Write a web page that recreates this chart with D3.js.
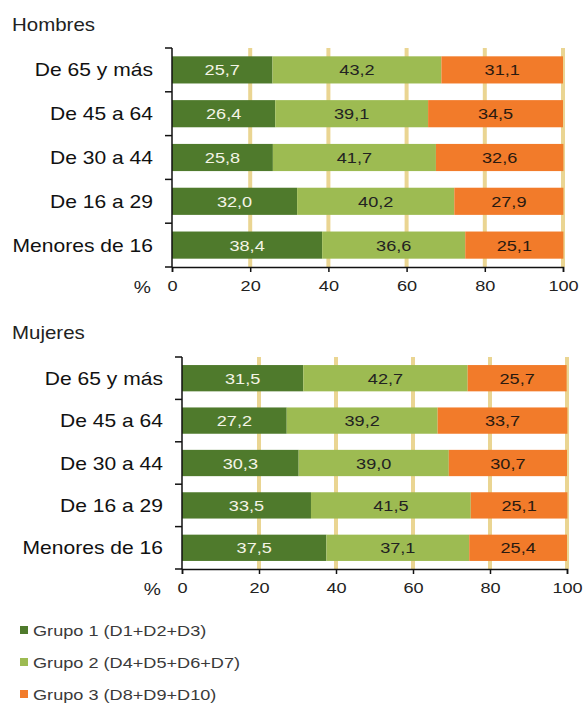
<!DOCTYPE html>
<html>
<head>
<meta charset="utf-8">
<script src="https://cdn.jsdelivr.net/npm/d3@7"></script>
<style>
  body { margin: 0; background: #fff; }
  text { font-family: "Liberation Sans", Arial, sans-serif; }
</style>
</head>
<body>
<div id="chart"></div>
<script>
// data
const categories = ["De 65 y más", "De 45 a 64", "De 30 a 44", "De 16 a 29", "Menores de 16"];
const groups = ["Grupo 1 (D1+D2+D3)", "Grupo 2 (D4+D5+D6+D7)", "Grupo 3 (D8+D9+D10)"];
const hombresG1 = [25.7, 26.4, 25.8, 32.0, 38.4];
const hombresG2 = [43.2, 39.1, 41.7, 40.2, 36.6];
const hombresG3 = [31.1, 34.5, 32.6, 27.9, 25.1];
const mujeresG1 = [31.5, 27.2, 30.3, 33.5, 37.5];
const mujeresG2 = [42.7, 39.2, 39.0, 41.5, 37.1];
const mujeresG3 = [25.7, 33.7, 30.7, 25.1, 25.4];
const xTicks = [0, 20, 40, 60, 80, 100];

const colors = ["#4f7a2c", "#9dbb52", "#f27b2a"];
const labelColors = ["#f4f4e6", "#222", "#2a1a10"];
const gridColor = "#ead592";
const stretch = 1.17; // the source picture is a bit wide, text is stretched

const W = 583, H = 704;
const svg = d3.select("#chart").append("svg")
    .attr("width", W)
    .attr("height", H);

const fmt = v => d3.format(".1f")(v).replace(".", ",");

// put a text at x,y, stretched horizontally
function stext(parent, x, y, str, size, anchor, color) {
    return parent.append("text")
        .attr("transform", `translate(${x},${y}) scale(${stretch},1)`)
        .attr("text-anchor", anchor)
        .style("font-size", size + "px")
        .attr("fill", color)
        .text(str);
}

function drawPanel(cfg) {
    let g = svg.append("g");

    // title
    stext(g, cfg.titleX, cfg.titleY, cfg.title, 17.5, "start", "#222");

    let x = d3.scaleLinear().domain([0, 100]).range([cfg.left, cfg.right]);
    let y = d3.scaleBand()
        .domain(categories)
        .range([cfg.top, cfg.bottom])
        .paddingInner(0.38)
        .paddingOuter(0.19);

    let rows = categories.map((c, i) => ({cat: c, g0: cfg.g1[i], g1: cfg.g2[i], g2: cfg.g3[i]}));
    let stack = d3.stack().keys(["g0", "g1", "g2"])(rows);

    // tan gridlines behind bars
    g.selectAll(".grid")
        .data(xTicks.slice(1))
        .enter().append("line")
        .attr("class", "grid")
        .attr("x1", d => x(d)).attr("x2", d => x(d))
        .attr("y1", cfg.top).attr("y2", cfg.bottom)
        .attr("stroke", gridColor)
        .attr("stroke-width", 4);

    // bars
    stack.forEach((layer, k) => {
        g.selectAll(".bar" + k)
            .data(layer)
            .enter().append("rect")
            .attr("class", "bar" + k)
            .attr("x", d => x(d[0]))
            .attr("width", d => x(d[1]) - x(d[0]))
            .attr("y", d => y(d.data.cat))
            .attr("height", y.bandwidth())
            .attr("fill", colors[k]);

        layer.forEach(d => {
            stext(g, (x(d[0]) + x(d[1])) / 2, y(d.data.cat) + y.bandwidth() / 2 + 5.5,
                fmt(d[1] - d[0]), 15.5, "middle", labelColors[k]);
        });
    });

    // y axis: line and ticks at band edges
    g.append("line")
        .attr("x1", cfg.left).attr("x2", cfg.left)
        .attr("y1", cfg.top).attr("y2", cfg.bottom)
        .attr("stroke", "#111").attr("stroke-width", 1.5);
    d3.range(categories.length + 1).forEach(i => {
        let yy = cfg.top + i * y.step();
        g.append("line")
            .attr("x1", cfg.left - 7).attr("x2", cfg.left)
            .attr("y1", yy).attr("y2", yy)
            .attr("stroke", "#111").attr("stroke-width", 1.5);
    });
    categories.forEach(c => {
        stext(g, cfg.left - 19, y(c) + y.bandwidth() / 2 + 6.5, c, 18, "end", "#111");
    });

    // x axis
    let xAxis = d3.axisBottom(x).tickValues(xTicks).tickSize(5).tickPadding(8).tickFormat(d3.format("d"));
    let ax = g.append("g")
        .attr("transform", `translate(0,${cfg.bottom})`)
        .call(xAxis);
    ax.select(".domain").attr("stroke", "#111").attr("stroke-width", 1.5);
    ax.selectAll(".tick line").attr("stroke", "#111").attr("stroke-width", 1.5);
    ax.selectAll(".tick text")
        .attr("transform", `scale(${stretch},1)`)
        .style("font-size", "15.5px")
        .style("font-family", "Liberation Sans, Arial, sans-serif")
        .attr("fill", "#222");

    stext(g, cfg.left - 21, cfg.bottom + 26, "%", 16.5, "end", "#222");
}

drawPanel({
    title: "Hombres", titleX: 12, titleY: 31,
    left: 172, right: 563, top: 48, bottom: 267,
    g1: hombresG1, g2: hombresG2, g3: hombresG3
});

drawPanel({
    title: "Mujeres", titleX: 12, titleY: 339,
    left: 182, right: 567, top: 357, bottom: 569,
    g1: mujeresG1, g2: mujeresG2, g3: mujeresG3
});

// legend
let legend = svg.append("g");
groups.forEach((name, i) => {
    let ly = 630 + i * 32;
    legend.append("rect")
        .attr("x", 20).attr("y", ly - 4)
        .attr("width", 8).attr("height", 8)
        .attr("fill", colors[i]);
    stext(legend, 33, ly + 5.5, name, 15.5, "start", "#3a3a3a");
});
</script>
</body>
</html>
